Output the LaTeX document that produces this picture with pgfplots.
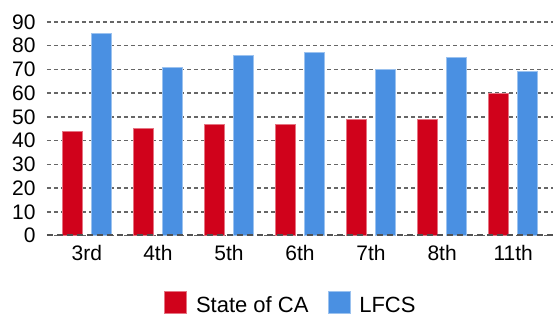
\documentclass[border=0pt]{standalone}
\usepackage{fontspec}
\setmainfont{Liberation Sans}
\usepackage{pgfplots}
\pgfplotsset{compat=1.18}
\definecolor{caRed}{HTML}{D0021B}
\definecolor{lfBlue}{HTML}{4A90E2}
\definecolor{gridGray}{HTML}{666666}
\begin{document}
\begin{tikzpicture}
\begin{axis}[
  scale only axis,
  width=506pt, height=213.5pt,
  ymin=0, ymax=90,
  xmin=-0.56, xmax=6.56,
  ytick={0,10,...,90},
  xtick=data,
  xticklabels={3rd,4th,5th,6th,7th,8th,11th},
  /pgf/number format/assume math mode=true,
  ybar=9pt, bar width=20pt,
  axis line style={draw=none},
  major tick length=0pt,
  ymajorgrids,
  grid style={gridGray, line width=1.5pt, dash pattern=on 4pt off 3pt},
  tick label style={font=\fontsize{21}{21}\selectfont, text=black},
  yticklabel style={xshift=-8pt},
  xticklabel style={yshift=-6pt},
  legend style={at={(0.482,-0.318)}, anchor=center, draw=none, fill=none,
    legend columns=2, font=\fontsize{22}{22}\selectfont,
    /tikz/every even column/.append style={column sep=17pt}},
  legend image code/.code={\fill[#1] (0pt,-8pt) rectangle (22pt,14pt); \path (29pt,0pt);},
  legend cell align=left,
]
\addplot[fill=caRed, draw=caRed!55!white, line width=0.8pt] coordinates {(0,44) (1,45) (2,47) (3,47) (4,49) (5,49) (6,60)};
\addplot[fill=lfBlue, draw=lfBlue!55!white, line width=0.8pt] coordinates {(0,85) (1,71) (2,76) (3,77) (4,70) (5,75) (6,69)};
\legend{State of CA, LFCS}
\draw[gridGray!80!black, line width=2pt, dash pattern=on 6pt off 4pt] (rel axis cs:0,0) -- (rel axis cs:1,0);
\end{axis}
\pgfresetboundingbox
\useasboundingbox (-47pt,-82.5pt) rectangle (508pt,235.5pt);
\end{tikzpicture}
\end{document}
